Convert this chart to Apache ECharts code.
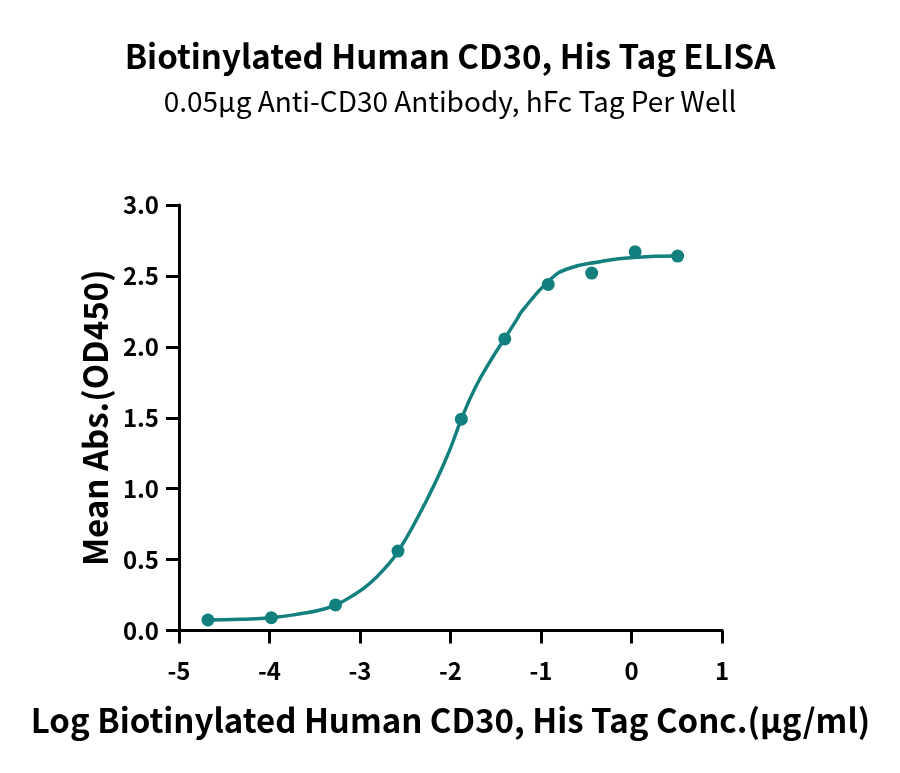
<!DOCTYPE html>
<html>
<head>
<meta charset="utf-8">
<script src="https://cdn.jsdelivr.net/npm/echarts@6/dist/echarts.min.js"></script>
<style>
html,body{margin:0;padding:0;background:#fff;}
#chart{width:900px;height:773px;}
</style>
</head>
<body>
<div id="chart"></div>
<script>
// measured points (log conc, OD450)
var pointX = [-4.68, -3.98, -3.27, -2.58, -1.88, -1.40, -0.92, -0.44, 0.04, 0.51];
var pointY = [0.074, 0.090, 0.18, 0.56, 1.49, 2.056, 2.44, 2.52, 2.67, 2.64];
// fitted curve
var curveX = [-4.68, -4.33, -3.98, -3.63, -3.44, -3.27, -3.07, -2.89, -2.71, -2.58, -2.36, -2.17, -2.01, -1.88, -1.72, -1.55, -1.40, -1.27, -1.20, -0.92, -0.72, -0.35, 0.02, 0.51];
var curveY = [0.074, 0.079, 0.09, 0.121, 0.145, 0.18, 0.25, 0.333, 0.45, 0.556, 0.80, 1.04, 1.27, 1.49, 1.72, 1.91, 2.06, 2.19, 2.26, 2.46, 2.547, 2.60, 2.63, 2.64];
var xTicks = [-5, 1, 1];   // min, max, interval
var yTicks = [0, 3, 0.5];

var teal = '#12807e';
var font = '"Noto Sans CJK SC", "Noto Sans", sans-serif';

function pairs(xs, ys){
	var out = [];
	for(var i=0;i<xs.length;i++){
		out.push([xs[i], ys[i]]);
	}
	return out;
}

var myChart = echarts.init(document.getElementById('chart'));
myChart.setOption({
	animation: false,
	backgroundColor: '#fff',
	title: [{
		text: 'Biotinylated Human CD30, His Tag ELISA',
		left: 'center',
		top: 35,
		textStyle: {fontFamily: font, fontSize: 33, fontWeight: 'bold', color: '#000'}
	},{
		text: '0.05μg Anti-CD30 Antibody, hFc Tag Per Well',
		left: 'center',
		top: 82,
		textStyle: {fontFamily: font, fontSize: 28, fontWeight: 'normal', color: '#000'}
	}],
	grid: {left: 179, right: 178, top: 205, bottom: 142.5, containLabel: false},
	xAxis: {
		type: 'value',
		min: xTicks[0], max: xTicks[1], interval: xTicks[2],
		name: 'Log Biotinylated Human CD30, His Tag Conc.(μg/ml)',
		nameLocation: 'middle',
		nameGap: 73,
		nameTextStyle: {fontFamily: font, fontSize: 33, fontWeight: 'bold', color: '#000'},
		axisLine: {onZero: false, lineStyle: {color: '#000', width: 3}},
		axisTick: {length: 13, lineStyle: {color: '#000', width: 3}},
		axisLabel: {margin: 28, fontFamily: font, fontSize: 24, fontWeight: 'bold', color: '#000'},
		splitLine: {show: false}
	},
	yAxis: {
		type: 'value',
		min: yTicks[0], max: yTicks[1], interval: yTicks[2],
		name: 'Mean Abs.(OD450)',
		nameLocation: 'middle',
		nameGap: 67,
		nameTextStyle: {fontFamily: font, fontSize: 33, fontWeight: 'bold', color: '#000'},
		axisLine: {show: true, onZero: false, lineStyle: {color: '#000', width: 3}},
		axisTick: {show: true, length: 13, lineStyle: {color: '#000', width: 3}},
		axisLabel: {margin: 20, fontFamily: font, fontSize: 24, fontWeight: 'bold', color: '#000',
			formatter: function(v){ return v.toFixed(1); }},
		splitLine: {show: false}
	},
	series: [{
		name: 'fit',
		type: 'line',
		smooth: 0.5,
		showSymbol: false,
		symbol: 'none',
		data: pairs(curveX, curveY),
		lineStyle: {color: teal, width: 3.5},
		z: 2
	},{
		name: 'points',
		type: 'scatter',
		symbol: 'circle',
		symbolSize: 13,
		data: pairs(pointX, pointY),
		itemStyle: {color: teal, opacity: 1},
		z: 3
	}]
});
</script>
</body>
</html>
